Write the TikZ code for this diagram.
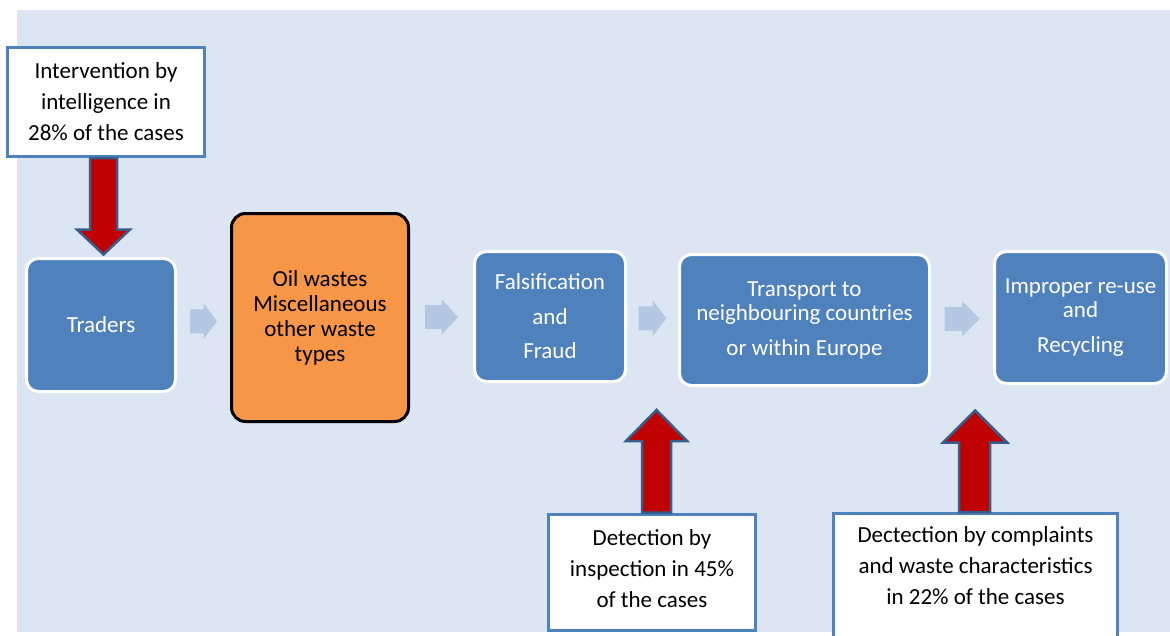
\documentclass[tikz,border=0pt]{standalone}
\usepackage{fontspec}
\setmainfont{Carlito}
\usetikzlibrary{calc}
\definecolor{bgblue}{HTML}{DCE6F2}
\definecolor{boxblue}{HTML}{4F81BD}
\definecolor{boxorange}{HTML}{F79646}
\definecolor{arrowred}{HTML}{C00000}
\definecolor{arrowedge}{HTML}{385D8A}
\definecolor{chevblue}{HTML}{B4C7E3}
\newcommand\chevbetween[3]{%
  \fill[chevron] ($(#1.east)!0.5!(#2.west)$) ++(-#3,-12) -- ++(#3,0) -- ++(0,-6)
    -- ++(#3,18) -- ++(-#3,18) -- ++(0,-6) -- ++(-#3,0) -- cycle;}
\begin{document}
\begin{tikzpicture}[x=1pt,y=-1pt,
  flowbox/.style={rounded corners=12pt, fill=boxblue, draw=white, line width=3pt,
    text=white, font=\fontsize{23}{24.5}\selectfont, align=center, inner sep=0pt},
  orangebox/.style={rounded corners=14pt, fill=boxorange, draw=black, line width=3pt,
    text=black, font=\fontsize{23}{25}\selectfont, align=center, inner sep=0pt},
  notebox/.style={fill=white, draw=boxblue, line width=3pt, text=black,
    font=\fontsize{23}{31}\selectfont, align=center, inner sep=0pt},
  redarrow/.style={fill=arrowred, draw=arrowedge, line width=2.5pt, line join=miter},
  chevron/.style={fill=chevblue}]
\useasboundingbox (0,0) rectangle (1170,635);
\clip (0,0) rectangle (1170,635);
\fill[white] (0,0) rectangle (1170,635);
\fill[bgblue] (17,10) rectangle (1170,632);

% main flow boxes
\node[flowbox, minimum width=149pt, minimum height=133pt] (traders) at (101,325) {Traders};
\node[orangebox, minimum width=177pt, minimum height=208pt] (oil) at (320,317.5)
  {Oil wastes\\Miscellaneous\\other waste\\types};
\node[flowbox, minimum width=151pt, minimum height=130pt] (fraud) at (550,316.5)
  {Falsification\\[10pt]and\\[10pt]Fraud};
\node[flowbox, minimum width=250pt, minimum height=131pt] (transport) at (804.5,320)
  {Transport to\\neighbouring countries\\[10pt]or within Europe};
\node[flowbox, minimum width=172pt, minimum height=132pt] (improper) at (1080.5,317.5)
  {Improper re-use\\and\\[10pt]Recycling};

% note boxes
\node[notebox, minimum width=197pt, minimum height=109pt] (intel) at (106,102)
  {Intervention by\\intelligence in\\28\% of the cases};
\node[notebox, minimum width=207pt, minimum height=116pt] (inspect) at (652,572)
  {Detection by\\inspection in 45\%\\of the cases\\[-24pt]\mbox{}};
\node[notebox, minimum width=284pt, minimum height=135pt] (complaints) at (975.5,581)
  {Dectection by complaints\\and waste characteristics\\in 22\% of the cases\\\mbox{}};

% chevrons
\chevbetween{traders}{oil}{13.5}
\chevbetween{oil}{fraud}{16.5}
\chevbetween{fraud}{transport}{14}
\chevbetween{transport}{improper}{17.5}

% red block arrows
\draw[redarrow] ($(intel.south)+(-16,0)$) -- ++(0,71.5) -- ++(-13,0) -- ++(26.5,25)
  -- ++(26.5,-25) -- ++(-13,0) -- ++(0,-71.5) -- cycle;
\draw[redarrow] ($(inspect.north)+(-10,0)$) -- ++(0,-71.5) -- ++(-16,0) -- ++(30.5,-31)
  -- ++(30.5,31) -- ++(-16,0) -- ++(0,71.5) -- cycle;
\draw[redarrow] ($(complaints.north)+(-16.5,0)$) -- ++(0,-69.5) -- ++(-16,0) -- ++(32,-32)
  -- ++(32,32) -- ++(-17,0) -- ++(0,69.5) -- cycle;
\end{tikzpicture}
\end{document}
